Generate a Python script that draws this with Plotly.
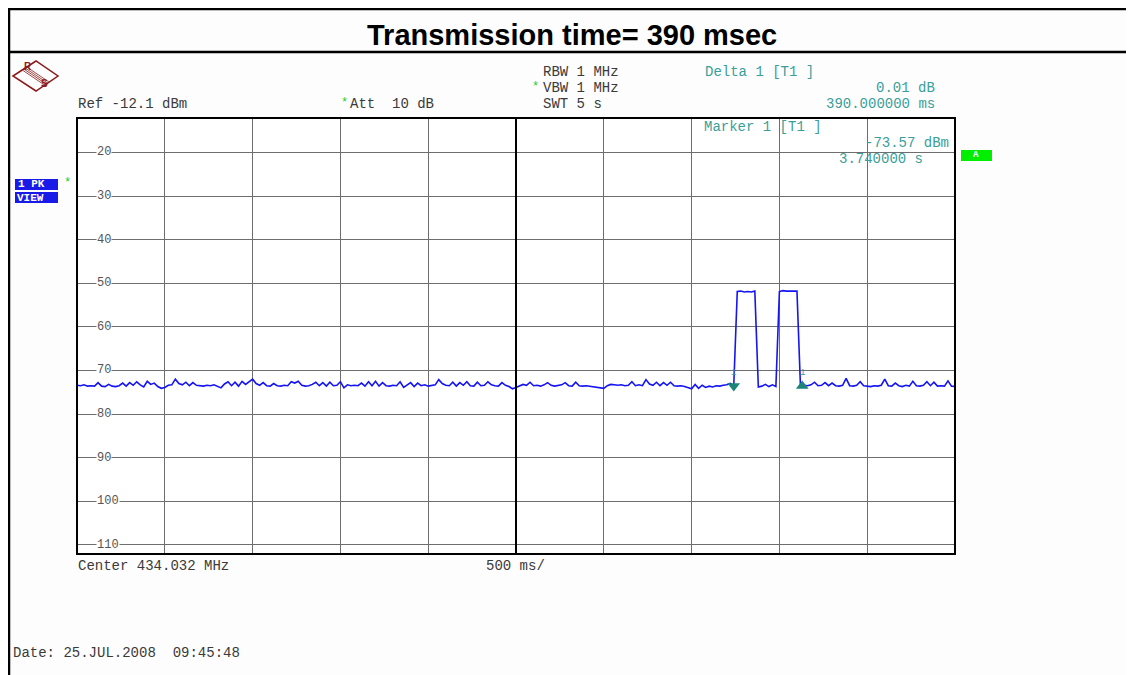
import numpy as np
import plotly.graph_objects as go

# ---------------- data ----------------
sweep_time_s = 5.0
n_points = 251
div0 = [-73.4, -73.5, -73.3, -73.6, -73.5, -73.6, -72.8, -73.6, -73.7, -73.2, -73.6, -73.7, -73.5,
        -72.9, -73.6, -72.8, -73.4, -72.6, -73.3, -73.8, -72.5, -73.2, -72.9, -73.7, -74.1]
div1 = [-73.9, -73.4, -73.3, -72.0, -73.0, -73.3, -72.7, -73.5, -72.8, -73.4, -73.5, -73.6, -73.4,
        -73.5, -73.3, -73.6, -74.0, -73.1, -72.6, -73.5, -72.7, -73.6, -72.5, -73.2, -72.6]
div2 = [-72.0, -73.0, -73.4, -72.8, -73.5, -73.6, -73.0, -73.5, -73.6, -73.4, -73.5, -72.6, -72.9,
        -72.5, -73.4, -73.6, -73.5, -73.2, -72.7, -73.5, -72.8, -73.6, -72.7, -73.5, -73.4]
div3 = [-72.6, -74.0, -73.3, -73.5, -73.4, -73.5, -72.9, -73.6, -72.6, -73.5, -72.5, -73.6, -72.8,
        -73.5, -73.6, -73.4, -73.5, -72.6, -73.9, -73.4, -72.8, -73.7, -72.9, -73.5, -73.3]
div4 = [-73.6, -73.5, -73.3, -72.1, -73.0, -73.4, -73.5, -72.7, -73.6, -72.8, -73.4, -72.6, -73.5,
        -73.6, -72.7, -73.5, -73.4, -72.6, -73.3, -73.5, -73.6, -72.8, -73.4, -73.7, -74.2]
div5 = [-73.9, -73.6, -73.2, -73.4, -72.7, -73.5, -73.4, -73.6, -73.3, -72.8, -73.4, -73.6, -73.5,
        -73.3, -72.8, -73.5, -73.6, -72.7, -73.5, -73.6, -73.5, -73.6, -73.7, -73.8, -74.0]
div6 = [-74.1, -73.5, -73.2, -73.3, -73.4, -73.3, -73.5, -73.4, -72.6, -73.5, -73.3, -73.5, -72.1,
        -73.1, -73.4, -72.7, -73.5, -72.8, -73.4, -72.7, -73.5, -73.6, -73.5, -73.7, -73.9]
div7 = [-74.2, -73.2, -74.1, -73.4, -73.9, -73.6, -73.8, -73.5, -73.6, -73.4, -73.3, -73.0, -73.57,
        -51.9, -51.8, -52.0, -51.9, -52.0, -51.8, -73.8, -73.6, -73.2, -73.7, -73.3, -73.7]
div8 = [-51.9, -51.7, -51.8, -51.8, -51.9, -51.8, -73.7, -73.4, -73.5, -73.3, -72.7, -73.5, -73.4,
        -72.8, -73.5, -72.9, -73.5, -73.6, -73.4, -71.8, -73.5, -73.6, -73.4, -72.6, -73.5]
div9 = [-73.6, -73.7, -73.5, -73.6, -73.4, -72.0, -73.5, -73.6, -72.9, -73.5, -73.7, -73.4, -73.6,
        -72.5, -73.5, -73.6, -73.4, -72.6, -73.5, -72.7, -73.6, -73.5, -73.6, -72.4, -73.6]
last_point = [-73.7]

ref_level_dbm = -12.1
db_per_div = 10
grid_levels = [-20, -30, -40, -50, -60, -70, -80, -90, -100, -110]
grid_labels = ["20", "30", "40", "50", "60", "70", "80", "90", "100", "110"]
time_grid = [0.5 * i for i in range(11)]

marker1_t, marker1_db = 3.74, -73.57
delta1_t, delta1_db = 3.74 + 0.390, -73.57 + 0.01

level_dbm = div0 + div1 + div2 + div3 + div4 + div5 + div6 + div7 + div8 + div9 + last_point
time_s = np.linspace(0, sweep_time_s, n_points)

# ---------------- layout helpers ----------------
# page body has an 8 px margin, so the figure is 8 px smaller / shifted
OFF = 8
W, H = 1134 - OFF, 675 - OFF
L, R, T, B = 77, 955, 118, 554   # plot area in page pixels


def px(x):
    return (x - L) / (R - L)


def py(y):
    return (B - y) / (B - T)


MONO = "Liberation Mono, DejaVu Sans Mono, monospace"
TEAL_TXT = "#3a9e9a"
TEAL_MK = "#1b857c"
DARK = "#3a3a3a"
FS = 14

fig = go.Figure()
fig.add_trace(go.Scatter(x=time_s, y=level_dbm, mode="lines",
                         line=dict(color="#1414f5", width=1.6), hoverinfo="skip",
                         showlegend=False))
fig.add_trace(go.Scatter(x=[marker1_t], y=[marker1_db], mode="markers",
                         marker=dict(symbol="triangle-down", size=11, color=TEAL_MK),
                         showlegend=False))
fig.add_trace(go.Scatter(x=[delta1_t], y=[delta1_db], mode="markers",
                         marker=dict(symbol="triangle-up", size=11, color=TEAL_MK),
                         showlegend=False))

ann = []


def text(s, x, y, anchor="left", size=FS, color=DARK, family=MONO, **kw):
    ann.append(dict(text=s, x=px(x), y=py(y), xref="paper", yref="paper",
                    xanchor=anchor, yanchor="middle", showarrow=False, borderpad=0,
                    font=dict(family=family, size=size, color=color), **kw))


# title
text("<b>Transmission time= 390 msec</b>", 572, 35, anchor="center", size=29,
     color="#000000", family="Liberation Sans, Arial, sans-serif")

# header texts
text("Ref -12.1 dBm", 77, 104)
text("*", 340, 103, size=12, color="#22cc22")
text("Att  10 dB", 349, 104)
text("RBW 1 MHz", 542, 72)
text("*", 531, 87, size=12, color="#22cc22")
text("VBW 1 MHz", 542, 88)
text("SWT 5 s", 542, 104)
text("Delta 1 [T1 ]", 704, 72, color=TEAL_TXT)
text("0.01 dB", 936, 88, anchor="right", color=TEAL_TXT)
text("390.000000 ms", 936, 104, anchor="right", color=TEAL_TXT)
text("Marker 1 [T1 ]", 703, 127, color=TEAL_TXT)
text("-73.57 dBm", 950, 143, anchor="right", color=TEAL_TXT)
text("3.740000 s", 924, 159, anchor="right", color=TEAL_TXT)
text("Center 434.032 MHz", 77, 566)
text("500 ms/", 485, 566)
text("Date: 25.JUL.2008  09:45:48", 12, 653)

# level labels inside the grid
for lvl, lab in zip(grid_levels, grid_labels):
    ann.append(dict(text=lab, x=px(96), y=lvl, xref="paper", yref="y",
                    xanchor="left", yanchor="middle", showarrow=False,
                    bgcolor="#ffffff", borderpad=0,
                    font=dict(family=MONO, size=12, color="#555555")))

# marker labels
for t, d in [(marker1_t, marker1_db), (delta1_t, delta1_db)]:
    ann.append(dict(text="1", x=t, y=d, xref="x", yref="y", yshift=13,
                    showarrow=False, font=dict(family=MONO, size=9, color=TEAL_TXT)))

# badges
text("<b>1 PK</b>", 17, 184.5, size=11, color="#ffffff")
text("*", 63, 183, size=12, color="#22cc22")
text("<b>VIEW</b>", 16, 197.5, size=11, color="#ffffff")
text("<b>A</b>", 976.5, 155.5, anchor="center", size=9, color="#ffffff")

# R&S logo letters
text("<b>R</b>", 28, 67, anchor="center", size=10, color="#8b1a1a", family="Liberation Sans, Arial")
text("<b>S</b>", 44, 84, anchor="center", size=10, color="#8b1a1a", family="Liberation Sans, Arial")

shapes = []


def line(x0, y0, x1, y1, color="#000000", width=2):
    shapes.append(dict(type="line", xref="paper", yref="paper",
                       x0=px(x0), y0=py(y0), x1=px(x1), y1=py(y1),
                       line=dict(color=color, width=width)))


def rect(x0, y0, x1, y1, fill, color=None, width=0):
    shapes.append(dict(type="rect", xref="paper", yref="paper",
                       x0=px(x0), y0=py(y0), x1=px(x1), y1=py(y1),
                       fillcolor=fill, line=dict(color=color or fill, width=width),
                       layer="below"))


# outer frame
line(9, 8, 9, 690, width=2.5)
line(8, 9, 1140, 9, width=2.5)
line(8, 52, 1140, 52, width=2.5)

# plot border and centre line
shapes.append(dict(type="rect", xref="paper", yref="paper", x0=0, y0=0, x1=1, y1=1,
                   line=dict(color="#000000", width=2)))
shapes.append(dict(type="line", xref="x", yref="paper", x0=2.5, x1=2.5, y0=0, y1=1,
                   line=dict(color="#000000", width=2)))

# badges
rect(15, 179, 58, 190, "#1a1ae8")
rect(15, 192, 58, 203, "#1a1ae8")
rect(961, 150, 992, 161, "#00ee00")

# logo diamond
shapes.append(dict(type="path", xref="paper", yref="paper",
                   path=f"M {px(13)},{py(76)} L {px(36)},{py(61)} L {px(58)},{py(76)} L {px(36)},{py(91)} Z",
                   line=dict(color="#8b1a1a", width=1.5)))
for off in [-2.5, -0.8, 0.8, 2.5]:
    ox, oy = -0.56 * off, 0.83 * off
    line(24.5 + ox, 68.5 + oy, 47.5 + ox, 84 + oy, color="#8b1a1a", width=0.8)

fig.update_layout(
    width=W, height=H, autosize=False,
    margin=dict(l=L - OFF, r=W - (R - OFF), t=T - OFF, b=H - (B - OFF), pad=0),
    paper_bgcolor="#fdfdfd", plot_bgcolor="#ffffff",
    showlegend=False,
    annotations=ann, shapes=shapes,
    xaxis=dict(range=[0, sweep_time_s], tickvals=time_grid, showticklabels=False,
               showgrid=True, gridcolor="#6e6e6e", gridwidth=1, zeroline=False,
               showline=False, ticks=""),
    yaxis=dict(range=[ref_level_dbm - 10 * db_per_div, ref_level_dbm], tickvals=grid_levels,
               showticklabels=False, showgrid=True, gridcolor="#6e6e6e", gridwidth=1,
               zeroline=False, showline=False, ticks=""),
)

fig.write_html("out.html")
